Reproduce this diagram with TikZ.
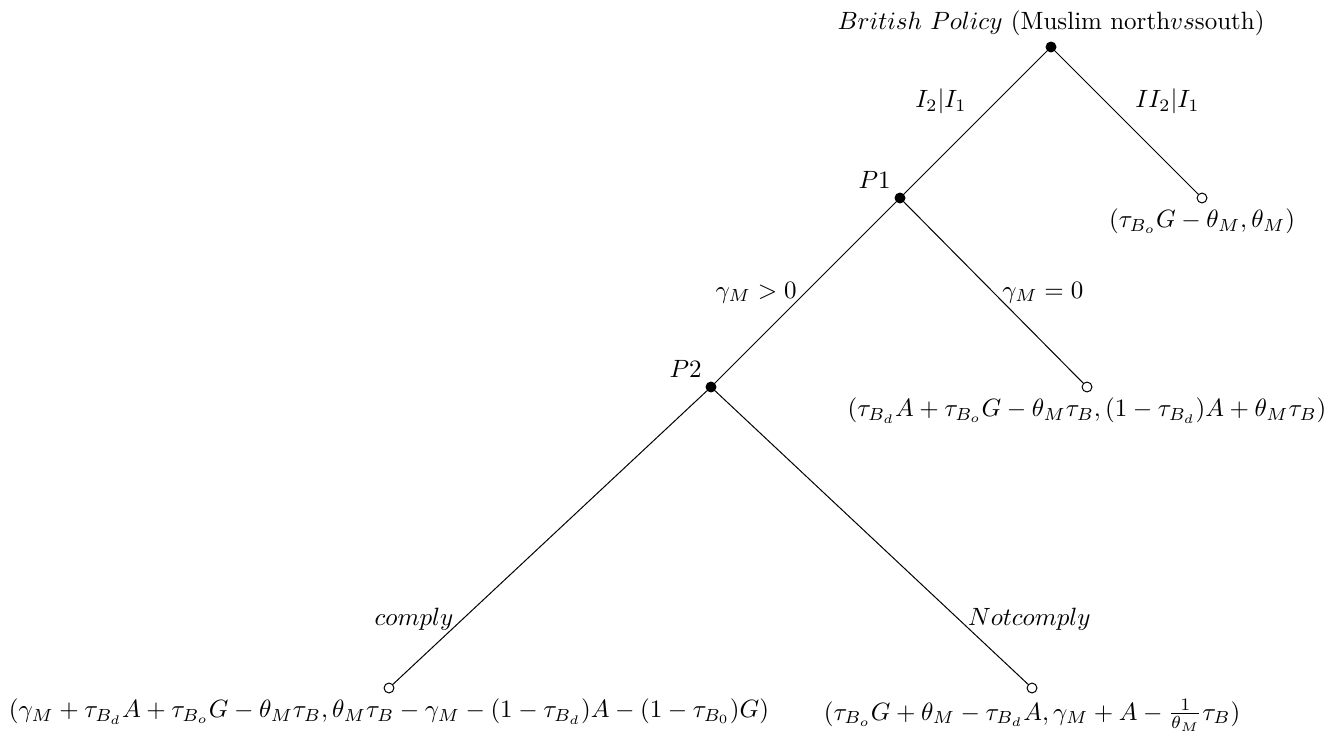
\documentclass[tikz,border=0pt]{standalone}
\usetikzlibrary{positioning}

\begin{document}
\begin{tikzpicture}[x=0.4pt,y=-0.4pt,
  solid node/.style={circle,draw,fill=black,inner sep=1.4pt},
  hollow node/.style={circle,draw,fill=white,inner sep=1.4pt},
  every label/.style={inner sep=2pt}]
  \useasboundingbox (0,0) rectangle (1332,733);
  % decision nodes
  \node[solid node,label=above:{$British\ Policy$ (Muslim north$vs$south)}] (root) at (1051,47) {};
  \node[solid node,label=above left:{$P1$}] (p1) at (900,198) {};
  \node[solid node,label=above left:{$P2$}] (p2) at (711,387) {};
  % terminal nodes
  \node[hollow node,label=below:{$(\tau_{B_o}G-\theta_M,\theta_M)$}] (l1) at (1202,198) {};
  \node[hollow node,label=below:{$(\tau_{B_d}A+\tau_{B_o}G-\theta_M\tau_B,(1-\tau_{B_d})A+\theta_M\tau_B)$}] (l2) at (1087,387) {};
  \node[hollow node,label=below:{$(\gamma_M+\tau_{B_d}A+\tau_{B_o}G-\theta_M\tau_B,\theta_M\tau_B-\gamma_M-(1-\tau_{B_d})A-(1-\tau_{B_0})G)$}] (l3) at (389,688) {};
  \node[hollow node,label=below:{$(\tau_{B_o}G+\theta_M-\tau_{B_d}A,\gamma_M+A-\frac{1}{\theta_M}\tau_B)$}] (l4) at (1032,688) {};
  % branches
  \draw (root) -- node[above left] {$I_2|I_1$} (p1);
  \draw (root) -- node[above right] {$II_2|I_1$} (l1);
  \draw (p1) -- node[left] {$\gamma_M>0$} (p2);
  \draw (p1) -- node[right] {$\gamma_M=0$} (l2);
  \draw (p2) -- node[pos=.78,left] {$comply$} (l3);
  \draw (p2) -- node[pos=.78,right] {$Not comply$} (l4);
\end{tikzpicture}
\end{document}
